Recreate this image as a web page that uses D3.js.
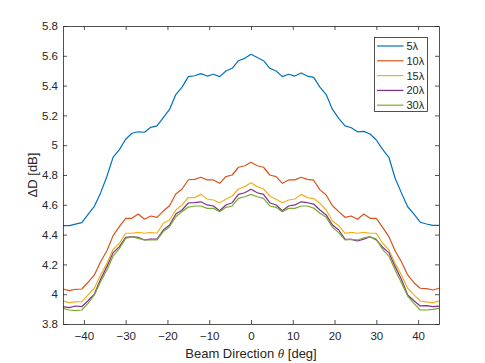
<!DOCTYPE html>
<html>
<head>
<meta charset="utf-8">
<script src="https://cdn.jsdelivr.net/npm/d3@7"></script>
<style>
  body { margin: 0; background: #fff; }
  svg { font-family: "Liberation Sans", Arial, sans-serif; }
</style>
</head>
<body>
<svg id="chart" width="485" height="363"></svg>
<script>
// beam direction samples (deg)
const theta = [-45, -43.5, -42, -40.5, -39, -37.5, -36, -34.5, -33, -31.5, -30, -28.5, -27, -25.5, -24, -22.5,
  -21, -19.5, -18, -16.5, -15, -13.5, -12, -10.5, -9, -7.5, -6, -4.5, -3, -1.5, 0, 1.5, 3, 4.5, 6, 7.5, 9,
  10.5, 12, 13.5, 15, 16.5, 18, 19.5, 21, 22.5, 24, 25.5, 27, 28.5, 30, 31.5, 33, 34.5, 36, 37.5, 39, 40.5,
  42, 43.5, 45];

const d5 = [4.46, 4.46, 4.47, 4.48, 4.535, 4.59, 4.68, 4.79, 4.92, 4.97, 5.04, 5.08, 5.09, 5.087, 5.12, 5.13,
  5.185, 5.24, 5.34, 5.39, 5.46, 5.466, 5.48, 5.464, 5.476, 5.46, 5.498, 5.516, 5.567, 5.583, 5.61, 5.588,
  5.567, 5.516, 5.498, 5.46, 5.476, 5.464, 5.485, 5.464, 5.455, 5.39, 5.34, 5.24, 5.18, 5.13, 5.117, 5.09,
  5.093, 5.075, 5.035, 4.972, 4.919, 4.778, 4.68, 4.587, 4.538, 4.483, 4.471, 4.462, 4.462];
const d10 = [4.035, 4.024, 4.033, 4.035, 4.08, 4.129, 4.218, 4.292, 4.393, 4.453, 4.509, 4.509, 4.538, 4.503,
  4.525, 4.516, 4.558, 4.594, 4.673, 4.706, 4.768, 4.771, 4.785, 4.767, 4.767, 4.744, 4.789, 4.8, 4.852, 4.862,
  4.885, 4.862, 4.852, 4.8, 4.789, 4.744, 4.767, 4.767, 4.785, 4.771, 4.765, 4.7, 4.666, 4.594, 4.554, 4.516,
  4.525, 4.503, 4.538, 4.509, 4.509, 4.449, 4.386, 4.292, 4.218, 4.129, 4.077, 4.04, 4.037, 4.028, 4.04];
const d15 = [3.954, 3.943, 3.948, 3.95, 3.995, 4.04, 4.129, 4.207, 4.301, 4.342, 4.409, 4.409, 4.415, 4.409,
  4.415, 4.409, 4.476, 4.498, 4.565, 4.599, 4.649, 4.648, 4.67, 4.639, 4.632, 4.614, 4.637, 4.659, 4.706, 4.722,
  4.748, 4.722, 4.706, 4.659, 4.637, 4.614, 4.632, 4.639, 4.67, 4.648, 4.642, 4.61, 4.565, 4.491, 4.46, 4.409,
  4.415, 4.409, 4.415, 4.409, 4.409, 4.342, 4.297, 4.207, 4.129, 4.04, 3.995, 3.954, 3.948, 3.943, 3.954];
const d20 = [3.916, 3.91, 3.921, 3.916, 3.956, 4.001, 4.1, 4.185, 4.279, 4.319, 4.382, 4.386, 4.382, 4.364,
  4.37, 4.37, 4.431, 4.464, 4.538, 4.565, 4.612, 4.614, 4.62, 4.599, 4.592, 4.56, 4.599, 4.614, 4.67, 4.681,
  4.704, 4.681, 4.67, 4.614, 4.599, 4.56, 4.592, 4.599, 4.62, 4.614, 4.605, 4.565, 4.532, 4.464, 4.431, 4.37,
  4.368, 4.357, 4.37, 4.386, 4.364, 4.315, 4.279, 4.185, 4.1, 3.995, 3.956, 3.921, 3.923, 3.916, 3.92];
const d30 = [3.905, 3.894, 3.89, 3.894, 3.939, 3.995, 4.084, 4.162, 4.256, 4.308, 4.375, 4.386, 4.375, 4.364,
  4.364, 4.364, 4.42, 4.453, 4.52, 4.554, 4.585, 4.592, 4.592, 4.576, 4.576, 4.554, 4.583, 4.592, 4.643, 4.654,
  4.67, 4.654, 4.643, 4.592, 4.583, 4.554, 4.576, 4.576, 4.592, 4.592, 4.578, 4.543, 4.516, 4.449, 4.413, 4.364,
  4.368, 4.364, 4.379, 4.386, 4.37, 4.301, 4.256, 4.162, 4.077, 3.988, 3.939, 3.894, 3.894, 3.898, 3.905];

const seriesNames = ["5\u03bb", "10\u03bb", "15\u03bb", "20\u03bb", "30\u03bb"];
const seriesValues = [d5, d10, d15, d20, d30];
const colors = ["#0072BD", "#D95319", "#EDB120", "#7E2F8E", "#77AC30"];

const xTicks = [-40, -30, -20, -10, 0, 10, 20, 30, 40];
const yTicks = [3.8, 4, 4.2, 4.4, 4.6, 4.8, 5, 5.2, 5.4, 5.6, 5.8];

let margin = {left: 63, right: 46, top: 26, bottom: 39};
let W = 485, H = 363;
let w = W - margin.left - margin.right;
let h = H - margin.top - margin.bottom;

let svg = d3.select("#chart");
let g = svg.append("g").attr("transform", "translate(" + margin.left + "," + margin.top + ")");

let x = d3.scaleLinear().domain([-45, 45]).range([0, w]);
let y = d3.scaleLinear().domain([3.8, 5.8]).range([h, 0]);

let axisColor = "#262626";
let tickLen = 4;

function styleAxis(sel) {
    sel.select(".domain").attr("stroke", axisColor).attr("stroke-width", 0.8);
    sel.selectAll(".tick line").attr("stroke", axisColor).attr("stroke-width", 0.8);
    sel.selectAll(".tick text").attr("fill", axisColor).style("font-size", "11.5px");
}

// lines
let line = d3.line().x((d, i) => x(theta[i])).y(d => y(d));
seriesValues.forEach((vals, k) => {
    g.append("path")
        .datum(vals)
        .attr("fill", "none")
        .attr("stroke", colors[k])
        .attr("stroke-width", 1.2)
        .attr("stroke-linejoin", "round")
        .attr("d", line);
});

// axes (box on, ticks inward)
g.append("g")
    .attr("transform", "translate(0," + h + ")")
    .call(d3.axisBottom(x).tickValues(xTicks).tickSize(-tickLen).tickSizeOuter(0).tickPadding(8).tickFormat(d3.format("d")))
    .call(styleAxis);
g.append("g")
    .call(d3.axisTop(x).tickValues(xTicks).tickSize(-tickLen).tickSizeOuter(0).tickFormat(""))
    .call(styleAxis);
g.append("g")
    .call(d3.axisLeft(y).tickValues(yTicks).tickSize(-tickLen).tickSizeOuter(0).tickPadding(5).tickFormat(d => d3.format("")(+d.toFixed(1))))
    .call(styleAxis);
g.append("g")
    .attr("transform", "translate(" + w + ",0)")
    .call(d3.axisRight(y).tickValues(yTicks).tickSize(-tickLen).tickSizeOuter(0).tickFormat(""))
    .call(styleAxis);

// axis labels
let xl = svg.append("text")
    .attr("x", margin.left + w / 2)
    .attr("y", 358)
    .attr("text-anchor", "middle")
    .attr("fill", axisColor)
    .style("font-size", "13px");
xl.append("tspan").text("Beam Direction ");
xl.append("tspan").style("font-style", "italic").style("font-family", "'Liberation Serif', serif").text("\u03b8");
xl.append("tspan").text(" [deg]");

svg.append("text")
    .attr("transform", "translate(37," + (margin.top + h / 2) + ") rotate(-90)")
    .attr("text-anchor", "middle")
    .attr("fill", axisColor)
    .style("font-size", "13px")
    .text("\u0394D [dB]");

// legend
let lg = svg.append("g").attr("transform", "translate(374.5,37.5)");
lg.append("rect")
    .attr("width", 53)
    .attr("height", 74)
    .attr("fill", "#fff")
    .attr("stroke", axisColor)
    .attr("stroke-width", 0.8);
seriesNames.forEach((name, k) => {
    let ry = 8.5 + k * 14.8;
    lg.append("line")
        .attr("x1", 2.5).attr("x2", 29)
        .attr("y1", ry).attr("y2", ry)
        .attr("stroke", colors[k])
        .attr("stroke-width", 1.2);
    lg.append("text")
        .attr("x", 32)
        .attr("y", ry + 4)
        .attr("fill", axisColor)
        .style("font-size", "11px")
        .text(name);
});
</script>
</body>
</html>
